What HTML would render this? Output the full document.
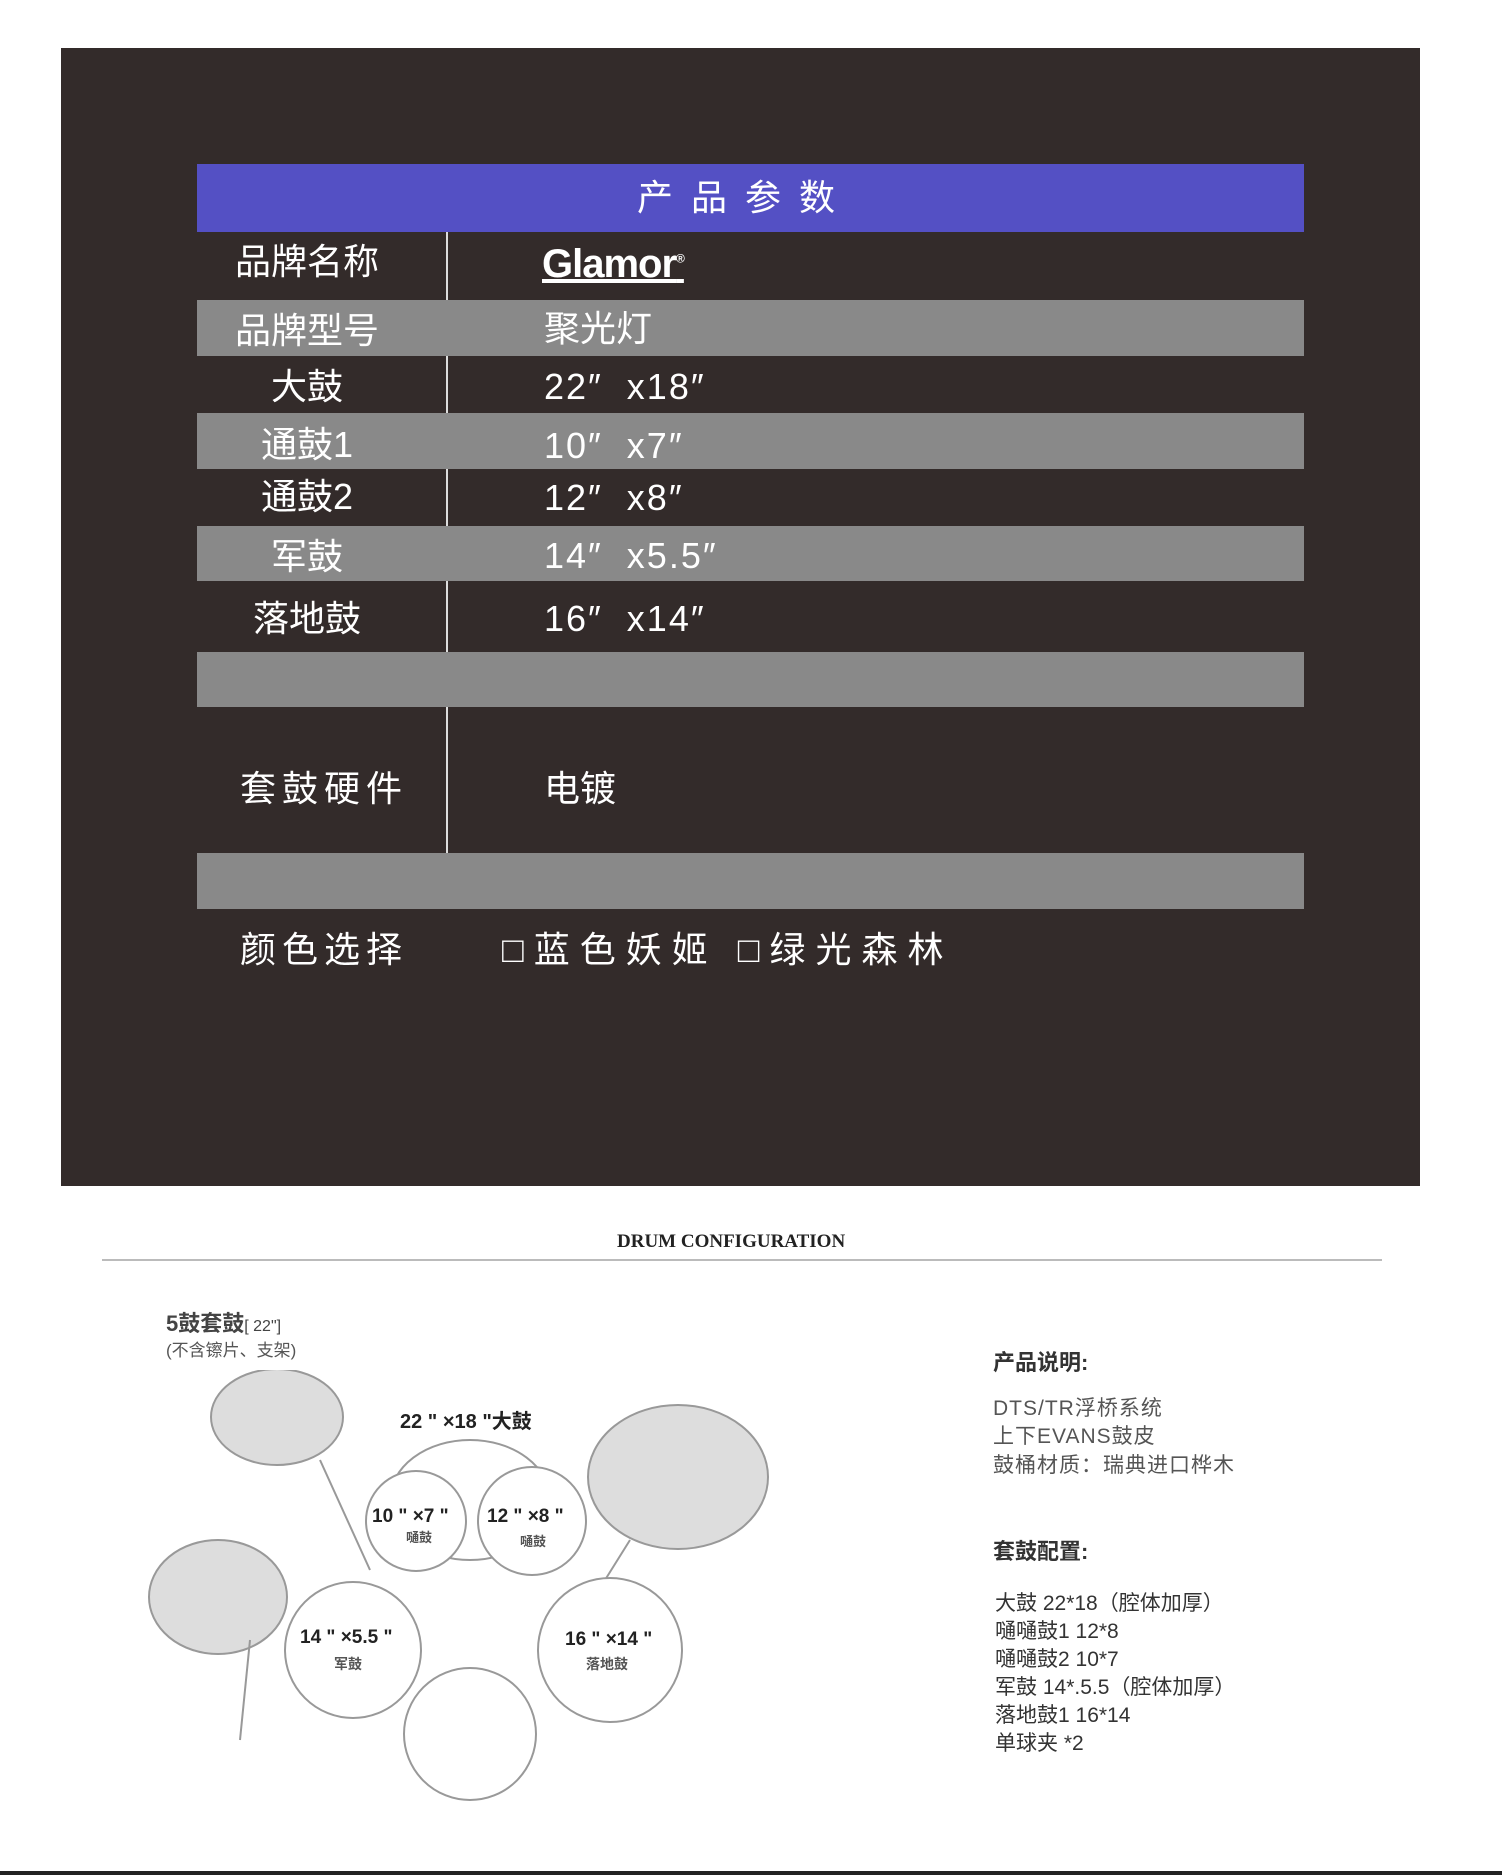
<!DOCTYPE html>
<html><head><meta charset="utf-8"><style>
body{margin:0;width:1502px;height:1875px;background:#fff;position:relative;overflow:hidden;font-family:"Liberation Sans","Noto Sans CJK SC",sans-serif}
.a{position:absolute;white-space:nowrap}
.panel{position:absolute;left:61px;top:48px;width:1359px;height:1138px;background:#332b2a}
.g{position:absolute;left:197px;width:1107px;background:#898989}
.w{color:#fff;font-size:36px;line-height:1;transform:translateY(-50%)}
.c{transform:translate(-50%,-50%)}
.k{color:#333;font-size:21px;line-height:1}
.v{letter-spacing:2px}
</style></head><body>
<div class="panel"></div>
<div class="a" style="left:197px;top:164px;width:1107px;height:68px;background:#5450c4"></div>
<div class="a w c" style="left:738px;top:198px;letter-spacing:4px">产 品 参 数</div>
<div class="a" style="left:446px;top:232px;width:2px;height:621px;background:#ddd"></div>
<div class="g" style="top:300px;height:56px"></div>
<div class="g" style="top:413px;height:56px"></div>
<div class="g" style="top:526px;height:55px"></div>
<div class="g" style="top:652px;height:55px"></div>
<div class="g" style="top:853px;height:56px"></div>
<div class="a w c" style="left:307px;top:262px">品牌名称</div>
<div class="a w" style="left:542px;top:264px;font-weight:bold;font-size:40px;text-decoration:underline;letter-spacing:-1px">Glamor<sup style="font-size:12px">®</sup></div>
<div class="a w c" style="left:307px;top:331px">品牌型号</div>
<div class="a w" style="left:544px;top:329px">聚光灯</div>
<div class="a w c" style="left:307px;top:387px">大鼓</div>
<div class="a w v" style="left:544px;top:387px">22″&nbsp; x18″</div>
<div class="a w c" style="left:307px;top:445px">通鼓1</div>
<div class="a w v" style="left:544px;top:446px">10″&nbsp; x7″</div>
<div class="a w c" style="left:307px;top:497px">通鼓2</div>
<div class="a w v" style="left:544px;top:498px">12″&nbsp; x8″</div>
<div class="a w c" style="left:307px;top:557px">军鼓</div>
<div class="a w v" style="left:544px;top:556px">14″&nbsp; x5.5″</div>
<div class="a w c" style="left:307px;top:619px">落地鼓</div>
<div class="a w v" style="left:544px;top:619px">16″&nbsp; x14″</div>
<div class="a w c" style="left:324px;top:789px;letter-spacing:6px">套鼓硬件</div>
<div class="a w" style="left:544px;top:789px">电镀</div>
<div class="a w c" style="left:324px;top:950px;letter-spacing:6px">颜色选择</div>
<div class="a w" style="left:502px;top:950px;letter-spacing:10px">□蓝色妖姬 □绿光森林</div>

<div class="a" style="left:617px;top:1231px;font-family:'Liberation Serif',serif;font-weight:bold;font-size:19px;color:#222">DRUM CONFIGURATION</div>
<div class="a" style="left:102px;top:1259px;width:1280px;height:2px;background:#bbb"></div>
<div class="a" style="left:166px;top:1306px;font-size:22px;font-weight:bold;color:#444">5鼓套鼓<span style="font-size:16px;font-weight:normal">[ 22"]</span></div>
<div class="a" style="left:166px;top:1336px;font-size:17px;color:#555">(不含镲片、支架)</div>

<svg class="a" style="left:130px;top:1370px" width="660" height="470" viewBox="130 1370 660 470">
<g fill="#f2f2f2" stroke="#999" stroke-width="2">
<ellipse cx="277" cy="1417" rx="66" ry="48" fill="#ddd"/>
<ellipse cx="678" cy="1477" rx="90" ry="72" fill="#ddd"/>
<ellipse cx="218" cy="1597" rx="69" ry="57" fill="#ddd"/>
<ellipse cx="470" cy="1500" rx="80" ry="60" fill="#fff"/>
<line x1="320" y1="1460" x2="370" y2="1570"/><line x1="630" y1="1540" x2="580" y2="1620"/><line x1="250" y1="1640" x2="240" y2="1740"/>
<circle cx="416" cy="1521" r="50" fill="#fff"/>
<circle cx="532" cy="1521" r="54" fill="#fff"/>
<circle cx="353" cy="1650" r="68" fill="#fff"/>
<circle cx="610" cy="1650" r="72" fill="#fff"/>
<circle cx="470" cy="1734" r="66" fill="#fff"/>
</g>
<g font-family="Liberation Sans,Noto Sans CJK SC,sans-serif" fill="#222" font-weight="bold">
<text x="400" y="1428" font-size="20">22 " ×18 "大鼓</text>
<text x="372" y="1522" font-size="19">10 " ×7 "</text>
<text x="406" y="1542" font-size="13" fill="#555">嗵鼓</text>
<text x="487" y="1522" font-size="19">12 " ×8 "</text>
<text x="520" y="1546" font-size="13" fill="#555">嗵鼓</text>
<text x="300" y="1643" font-size="19">14 " ×5.5 "</text>
<text x="334" y="1669" font-size="14" fill="#555">军鼓</text>
<text x="565" y="1645" font-size="19">16 " ×14 "</text>
<text x="586" y="1669" font-size="14" fill="#555">落地鼓</text>
</g>
</svg>

<div class="a k" style="left:993px;top:1352px;font-weight:bold;font-size:22px">产品说明:</div>
<div class="a k" style="left:993px;top:1398px;color:#555;letter-spacing:1px">DTS/TR浮桥系统</div>
<div class="a k" style="left:993px;top:1426px;color:#555;letter-spacing:1px">上下EVANS鼓皮</div>
<div class="a k" style="left:993px;top:1455px;color:#555;letter-spacing:1px">鼓桶材质：瑞典进口桦木</div>
<div class="a k" style="left:993px;top:1541px;font-weight:bold;font-size:22px">套鼓配置:</div>
<div class="a k" style="left:995px;top:1593px">大鼓 22*18（腔体加厚）</div>
<div class="a k" style="left:995px;top:1621px">嗵嗵鼓1 12*8</div>
<div class="a k" style="left:995px;top:1649px">嗵嗵鼓2 10*7</div>
<div class="a k" style="left:995px;top:1677px">军鼓 14*.5.5（腔体加厚）</div>
<div class="a k" style="left:995px;top:1705px">落地鼓1 16*14</div>
<div class="a k" style="left:995px;top:1733px">单球夹 *2</div>
<div class="a" style="left:0;top:1871px;width:1502px;height:4px;background:#222"></div>
</body></html>
